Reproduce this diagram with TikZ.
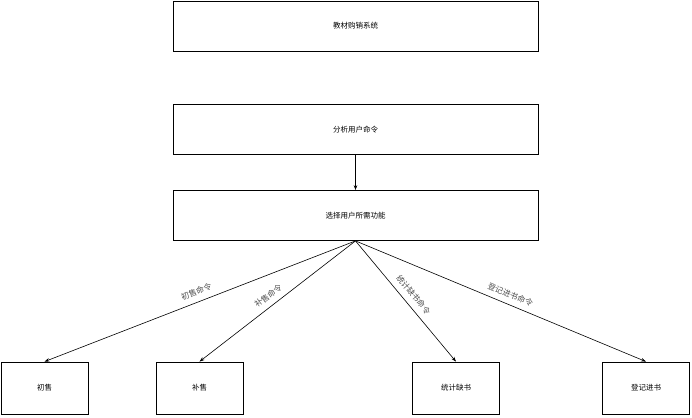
\documentclass[tikz,border=0pt]{standalone}
\usepackage{fontspec}
\newfontfamily\cjk{Noto Sans CJK SC}
\usetikzlibrary{arrows.meta}
\tikzset{
  box/.style={draw=black, line width=0.8pt, fill=white, font=\cjk\fontsize{7.5}{9}\selectfont, inner sep=0pt},
  wide/.style={box, minimum width=365pt, minimum height=50pt},
  small/.style={box, minimum width=87pt, minimum height=52pt},
  conn/.style={draw=black, line width=0.6pt, -{Stealth[length=5pt,width=3.5pt]}},
  lbl/.style={font=\cjk\fontsize{8}{9}\selectfont, text=black!70, sloped, above, inner sep=6pt}
}
\begin{document}
\begin{tikzpicture}[x=1pt,y=-1pt]
\useasboundingbox (0,0) rectangle (692,417);
\node[wide] (sys) at (355.5,26) {教材购销系统};
\node[wide] (ana) at (355.5,129.5) {分析用户命令};
\node[wide] (sel) at (355.5,215.5) {选择用户所需功能};
\node[small] (b1) at (44.5,388) {初售};
\node[small] (b2) at (199.5,388) {补售};
\node[small] (b3) at (456,388) {统计缺书};
\node[small] (b4) at (646,388) {登记进书};
\draw[conn] (ana.south) -- (sel.north);
\draw[conn] (sel.south) -- (b1.north) node[lbl, pos=0.5] {初售命令};
\draw[conn] (sel.south) -- (b2.north) node[lbl, pos=0.52] {补售命令};
\draw[conn] (sel.south) -- (b3.north) node[lbl, pos=0.5] {统计缺书命令};
\draw[conn] (sel.south) -- (b4.north) node[lbl, pos=0.52] {登记进书命令};
\end{tikzpicture}
\end{document}
